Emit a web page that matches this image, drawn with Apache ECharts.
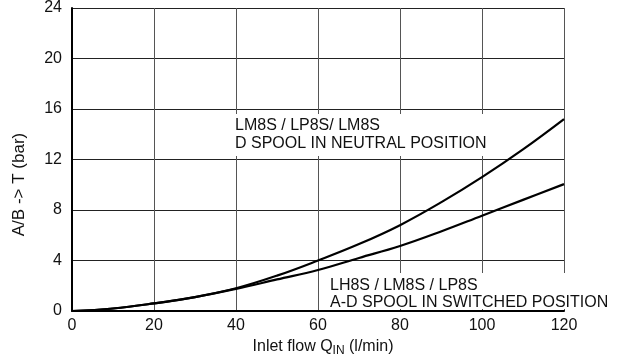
<!DOCTYPE html>
<html>
<head>
<meta charset="utf-8">
<script src="https://cdn.jsdelivr.net/npm/echarts@6/dist/echarts.min.js"></script>
<style>html,body{margin:0;padding:0;background:#fff;}#c{width:618px;height:360px;}</style>
</head>
<body>
<div id="c"></div>
<script>
var flow = [0, 10, 20, 30, 40, 50, 60, 70, 80, 90, 100, 110, 120];
var neutral = [0, 0.2, 0.6, 1.1, 1.8, 2.8, 4.0, 5.3, 6.8, 8.6, 10.6, 12.8, 15.2];
var switched = [0, 0.2, 0.6, 1.1, 1.75, 2.5, 3.25, 4.2, 5.15, 6.3, 7.55, 8.8, 10.05];
var xTicks = [0, 20, 40, 60, 80, 100, 120];
var yTicks = [0, 4, 8, 12, 16, 20, 24];
var labelNeutral = ['LM8S / LP8S/ LM8S', 'D SPOOL IN NEUTRAL POSITION'];
var labelSwitched = ['LH8S / LM8S / LP8S', 'A-D SPOOL IN SWITCHED POSITION'];

function pairs(xs, ys) { return xs.map(function (x, i) { return [x, ys[i]]; }); }

var chart = echarts.init(document.getElementById('c'));
var font = 'Liberation Sans, Arial, sans-serif';
chart.setOption({
  animation: false,
  grid: { left: 72, right: 54, top: 8, bottom: 49, outerBoundsMode: 'none', containLabel: false },
  xAxis: {
    type: 'value', min: xTicks[0], max: xTicks[xTicks.length - 1], interval: 20,
    axisLine: { show: true, lineStyle: { color: '#000', width: 2 } },
    axisTick: { show: false },
    axisLabel: { color: '#111', fontSize: 16, fontFamily: font, margin: 7 },
    splitLine: { show: true, lineStyle: { color: '#555', width: 1 } },
    name: 'Inlet flow Q{sub|IN} (l/min)',
    nameLocation: 'middle', nameGap: 26,
    nameTextStyle: { color: '#111', fontSize: 16, fontFamily: font, padding: [0, 0, 0, 10],
      rich: { sub: { fontSize: 12, verticalAlign: 'bottom', padding: [8, 0, 0, 0], fontFamily: font, color: '#111' } } }
  },
  yAxis: {
    type: 'value', min: yTicks[0], max: yTicks[yTicks.length - 1], interval: 4,
    axisLine: { show: true, lineStyle: { color: '#000', width: 2 } },
    axisTick: { show: false },
    axisLabel: { color: '#111', fontSize: 16, fontFamily: font, margin: 10 },
    splitLine: { show: true, lineStyle: { color: '#222', width: 1 } },
    name: 'A/B -> T (bar)', nameLocation: 'middle', nameGap: 44,
    nameTextStyle: { color: '#111', fontSize: 17, fontFamily: font, padding: [0, 50, 0, 0] }
  },
  series: [
    { type: 'line', data: pairs(flow, neutral), smooth: 0.4, showSymbol: false,
      lineStyle: { color: '#000', width: 2.2 }, z: 5 },
    { type: 'line', data: pairs(flow, switched), smooth: 0.4, showSymbol: false,
      lineStyle: { color: '#000', width: 2.2 }, z: 5 }
  ],
  graphic: [
    { type: 'text', left: 235, top: 114, z: 20,
      style: { text: labelNeutral.join('\n'), font: '16px ' + font, fill: '#111', lineHeight: 18,
        backgroundColor: '#fff', padding: [3, 2, 3, 0] } },
    { type: 'rect', left: 329, top: 273, z: 19,
      shape: { width: 280, height: 36 }, style: { fill: '#fff' } },
    { type: 'text', left: 330, top: 277, z: 20,
      style: { text: labelSwitched.join('\n'), font: '16px ' + font, fill: '#111', lineHeight: 17 } }
  ]
});
</script>
</body>
</html>
